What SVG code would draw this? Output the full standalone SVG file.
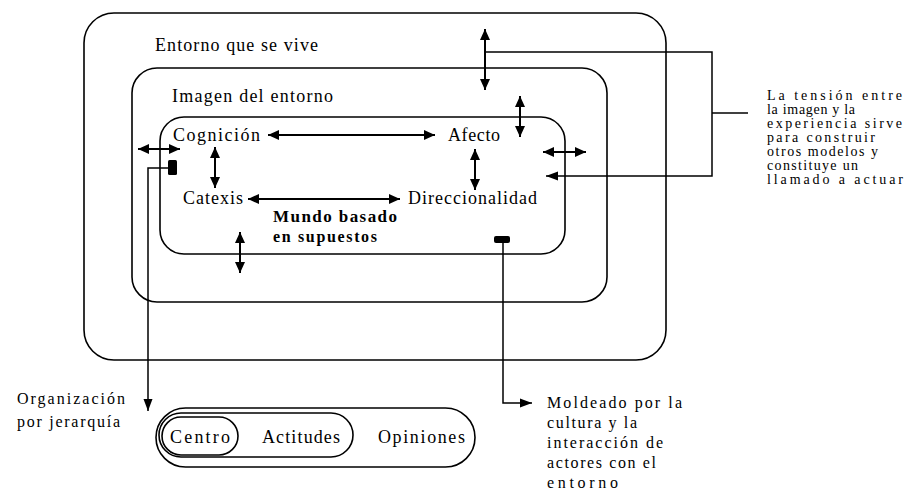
<svg xmlns="http://www.w3.org/2000/svg" width="905" height="493" viewBox="0 0 905 493">
<style>
.box{fill:none;stroke:#000;stroke-width:1.6}
.t{font-family:"Liberation Serif","DejaVu Serif",serif;font-size:18px;fill:#000}
.s{font-family:"Liberation Serif","DejaVu Serif",serif;font-size:14px;fill:#000}
.n{font-family:"Liberation Serif","DejaVu Serif",serif;font-size:16px;fill:#000}
.b{font-family:"Liberation Serif","DejaVu Serif",serif;font-size:17px;font-weight:bold;fill:#000}
.b2{font-family:"Liberation Serif","DejaVu Serif",serif;font-size:16px;font-weight:bold;fill:#000}
.a{fill:none;stroke:#000;stroke-width:2;marker-start:url(#ah);marker-end:url(#ah)}
.c{fill:none;stroke:#000;stroke-width:1.5}
</style>
<defs>
<marker id="ah" markerUnits="userSpaceOnUse" markerWidth="11" markerHeight="11" refX="11" refY="5.5" orient="auto-start-reverse" viewBox="0 0 11 11">
<path d="M0,0.5 L11,5.5 L0,10.5 z" fill="#000"/>
</marker>
<marker id="ae" markerUnits="userSpaceOnUse" markerWidth="12" markerHeight="10" refX="12" refY="5" orient="auto" viewBox="0 0 12 10">
<path d="M0,0.5 L12,5 L0,9.5 z" fill="#000"/>
</marker>
</defs>

<g id="entorno-vive">
<rect class="box" x="84" y="13" width="582" height="347" rx="30"/>
<text class="t" x="155" y="51" textLength="163">Entorno que se vive</text>
</g>
<g id="imagen-entorno">
<rect class="box" x="132" y="68" width="475" height="234" rx="25"/>
<text class="t" x="172" y="102" textLength="161">Imagen del entorno</text>
</g>
<g id="mundo-supuestos">
<rect class="box" x="160" y="117" width="405" height="137" rx="24"/>
<text class="b" x="273" y="222" textLength="124">Mundo basado</text>
<text class="b2" x="273" y="242" textLength="104">en supuestos</text>
</g>
<g id="cognicion"><text class="t" x="173" y="141" textLength="87">Cognición</text></g>
<g id="afecto"><text class="t" x="448" y="141" textLength="52">Afecto</text></g>
<g id="catexis"><text class="t" x="183" y="204" textLength="60">Catexis</text></g>
<g id="direccionalidad"><text class="t" x="408" y="204" textLength="129">Direccionalidad</text></g>

<g id="nota-tension">
<text class="s" x="767" y="100" textLength="135">La tensión entre</text>
<text class="s" x="767" y="114" textLength="88">la imagen y la</text>
<text class="s" x="767" y="128" textLength="135">experiencia sirve</text>
<text class="s" x="767" y="142" textLength="108">para construir</text>
<text class="s" x="767" y="156" textLength="111">otros modelos y</text>
<text class="s" x="767" y="170" textLength="91">constituye un</text>
<text class="s" x="767" y="184" textLength="136">llamado a actuar</text>
</g>
<g id="nota-organizacion">
<text class="n" x="17" y="404" textLength="108">Organización</text>
<text class="n" x="17" y="427" textLength="103">por jerarquía</text>
</g>
<g id="nota-moldeado">
<text class="n" x="547" y="408" textLength="135">Moldeado por la</text>
<text class="n" x="547" y="428" textLength="90">cultura y la</text>
<text class="n" x="547" y="448" textLength="116">interacción de</text>
<text class="n" x="547" y="468" textLength="109">actores con el</text>
<text class="n" x="547" y="488" textLength="71">entorno</text>
</g>
<g id="jerarquia">
<rect class="box" x="156" y="408" width="319" height="59" rx="29.5"/>
<rect class="box" x="159" y="413" width="194" height="44" rx="22"/>
<rect class="box" x="162" y="417" width="76" height="38" rx="19"/>
<text class="t" x="170" y="443" textLength="60">Centro</text>
<text class="t" x="262" y="443" textLength="78">Actitudes</text>
<text class="t" x="378" y="443" textLength="87">Opiniones</text>
</g>

<g id="connectors">
<path class="a" d="M485,29 V90"/>
<path class="a" d="M520,96 V137"/>
<path class="a" d="M543,152 H586"/>
<path class="a" d="M138,149 H180"/>
<path class="a" d="M268,135 H435"/>
<path class="a" d="M248,199 H400"/>
<path class="a" d="M215,147 V188"/>
<path class="a" d="M475,149 V190"/>
<path class="a" d="M240,232 V273"/>
<path class="c" d="M485,52 H712 V176 H546" marker-end="url(#ae)"/>
<path class="c" d="M712,113 H748"/>
<rect x="168" y="160" width="9" height="15" rx="1.5" fill="#000"/>
<path class="c" d="M168,168 H148 V411" marker-end="url(#ae)"/>
<rect x="494" y="236" width="16" height="7" rx="2" fill="#000"/>
<path class="c" d="M503,243 V403 H532" marker-end="url(#ae)"/>
</g>
</svg>
